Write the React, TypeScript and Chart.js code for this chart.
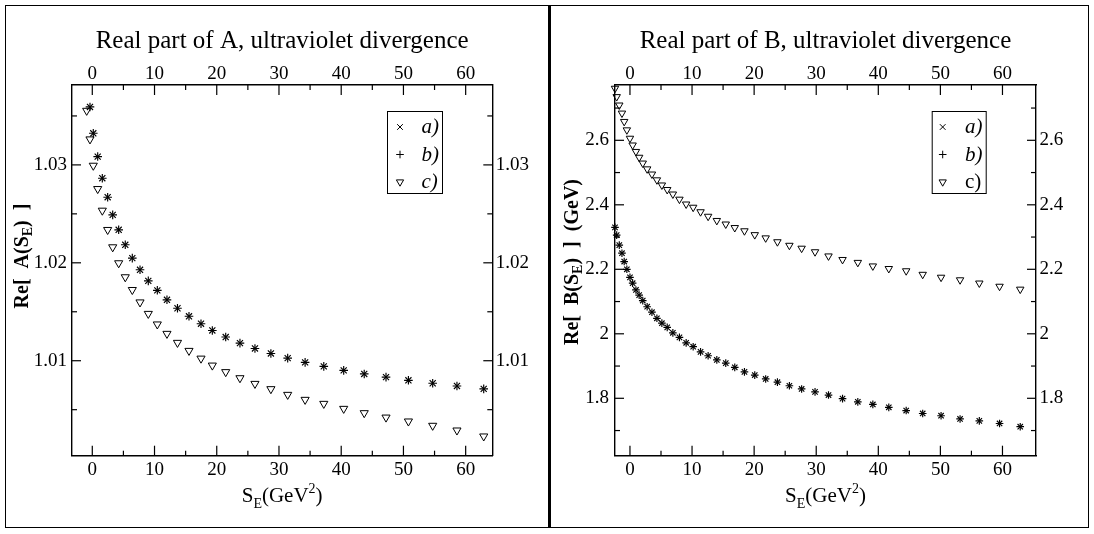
import React, { useEffect, useRef } from 'react';
import { Chart, registerables } from 'chart.js';

Chart.register(...registerables);

const SERIF = "'Liberation Serif', 'Times New Roman', Times, serif";

// ---------- Left panel: Re A(S_E) ----------
const sEA = [-0.9, -0.37, 0.16, 0.87, 1.61, 2.47, 3.28, 4.24, 5.3, 6.43, 7.67, 9.0, 10.45, 12.0, 13.69, 15.54, 17.47, 19.29, 21.44, 23.73, 26.14, 28.7, 31.4, 34.2, 37.2, 40.4, 43.7, 47.2, 50.8, 54.7, 58.6, 62.9];
const reA_a = [null, 1.03592, 1.03323, 1.03085, 1.02864, 1.0267, 1.0249, 1.02337, 1.02184, 1.02048, 1.01929, 1.01816, 1.01719, 1.01622, 1.01536, 1.01454, 1.01378, 1.01309, 1.01242, 1.0118, 1.01125, 1.01074, 1.01027, 1.00983, 1.00942, 1.00901, 1.00865, 1.00832, 1.008, 1.0077, 1.00742, 1.00712];
const reA_b = [null, 1.03592, 1.03323, 1.03085, 1.02864, 1.0267, 1.0249, 1.02337, 1.02184, 1.02048, 1.01929, 1.01816, 1.01719, 1.01622, 1.01536, 1.01454, 1.01378, 1.01309, 1.01242, 1.0118, 1.01125, 1.01074, 1.01027, 1.00983, 1.00942, 1.00901, 1.00865, 1.00832, 1.008, 1.0077, 1.00742, 1.00712];
const reA_c = [1.03554, 1.03262, 1.02993, 1.02755, 1.02534, 1.02337, 1.0216, 1.01997, 1.01854, 1.01724, 1.01597, 1.0148, 1.01372, 1.01276, 1.01184, 1.01102, 1.01023, 1.00952, 1.00885, 1.00823, 1.00765, 1.00711, 1.00653, 1.00602, 1.00561, 1.0051, 1.00466, 1.00421, 1.00381, 1.00337, 1.00289, 1.00228];

// ---------- Right panel: Re B(S_E) ----------
const sEB = [-2.41, -2.14, -1.72, -1.29, -0.93, -0.5, 0, 0.43, 0.96, 1.48, 2.06, 2.77, 3.54, 4.34, 5.14, 6.0, 6.91, 7.97, 9.05, 10.18, 11.37, 12.59, 13.99, 15.43, 16.88, 18.44, 20.1, 21.86, 23.75, 25.68, 27.65, 29.81, 31.98, 34.24, 36.7, 39.12, 41.69, 44.49, 47.15, 50.11, 53.17, 56.27, 59.53, 62.86];
const reB_a = [2.33, 2.306, 2.275, 2.25, 2.224, 2.2, 2.175, 2.157, 2.136, 2.12, 2.103, 2.084, 2.067, 2.048, 2.033, 2.02, 2.003, 1.989, 1.972, 1.96, 1.944, 1.932, 1.919, 1.909, 1.896, 1.882, 1.872, 1.86, 1.85, 1.839, 1.829, 1.82, 1.81, 1.799, 1.789, 1.781, 1.772, 1.762, 1.753, 1.746, 1.736, 1.73, 1.722, 1.712];
const reB_b = [2.33, 2.306, 2.275, 2.25, 2.224, 2.2, 2.175, 2.157, 2.136, 2.12, 2.103, 2.084, 2.067, 2.048, 2.033, 2.02, 2.003, 1.989, 1.972, 1.96, 1.944, 1.932, 1.919, 1.909, 1.896, 1.882, 1.872, 1.86, 1.85, 1.839, 1.829, 1.82, 1.81, 1.799, 1.789, 1.781, 1.772, 1.762, 1.753, 1.746, 1.736, 1.73, 1.722, 1.712];
const reB_c = [2.761, 2.735, 2.709, 2.684, 2.658, 2.632, 2.606, 2.585, 2.565, 2.547, 2.529, 2.511, 2.495, 2.477, 2.461, 2.447, 2.433, 2.417, 2.402, 2.392, 2.378, 2.364, 2.351, 2.34, 2.329, 2.319, 2.307, 2.297, 2.285, 2.274, 2.265, 2.254, 2.241, 2.23, 2.221, 2.21, 2.202, 2.195, 2.184, 2.175, 2.167, 2.157, 2.147, 2.138];

// ---------- Ticks ----------
const xMajor = [0, 10, 20, 30, 40, 50, 60];
const xMinor = [5, 15, 25, 35, 45, 55];
const aMajor = [1.01, 1.02, 1.03];
const aMinor = [1.005, 1.015, 1.025, 1.035];
const bMajor = [1.8, 2.0, 2.2, 2.4, 2.6];
const bMinor = [1.7, 1.9, 2.1, 2.3, 2.5, 2.7];

const seriesLabels = ['a)', 'b)', 'c)'];

function pts(xs: number[], ys: (number | null)[]) {
  const out: { x: number; y: number }[] = [];
  xs.forEach((x, i) => {
    const y = ys[i];
    if (y !== null && y !== undefined) out.push({ x, y });
  });
  return out;
}

function drawRich(ctx: CanvasRenderingContext2D, parts: any[], cx: number, baseline: number) {
  let total = 0;
  parts.forEach((p) => {
    ctx.font = p.font;
    p.w = ctx.measureText(p.t).width;
    total += p.w;
  });
  let x = cx - total / 2;
  ctx.textAlign = 'left';
  ctx.textBaseline = 'alphabetic';
  parts.forEach((p) => {
    ctx.font = p.font;
    ctx.fillText(p.t, x, baseline + (p.dy || 0));
    x += p.w;
  });
}

function drawMarker(ctx: CanvasRenderingContext2D, kind: string, x: number, y: number, r: number) {
  ctx.beginPath();
  if (kind === 'x') {
    const d = r * 0.7071;
    ctx.moveTo(x - d, y - d); ctx.lineTo(x + d, y + d);
    ctx.moveTo(x - d, y + d); ctx.lineTo(x + d, y - d);
  } else if (kind === '+') {
    ctx.moveTo(x - r, y); ctx.lineTo(x + r, y);
    ctx.moveTo(x, y - r); ctx.lineTo(x, y + r);
  } else {
    ctx.moveTo(x - r * 0.866, y - r * 0.5);
    ctx.lineTo(x + r * 0.866, y - r * 0.5);
    ctx.lineTo(x, y + r);
    ctx.closePath();
  }
  ctx.stroke();
}

function makeDecor(cfg: any) {
  return {
    id: 'decor',
    afterDraw(chart: any) {
      const { ctx, chartArea: a, scales } = chart;
      ctx.save();
      ctx.strokeStyle = '#000';
      ctx.fillStyle = '#000';
      ctx.lineWidth = 1.2;
      const seg = (x1: number, y1: number, x2: number, y2: number) => {
        ctx.beginPath(); ctx.moveTo(x1, y1); ctx.lineTo(x2, y2); ctx.stroke();
      };
      const xTicks: [number[], number][] = [[xMajor, 10], [xMinor, 5]];
      xTicks.forEach(([vals, len]) => vals.forEach((v) => {
        const px = scales.x.getPixelForValue(v);
        seg(px, a.bottom, px, a.bottom - len);
        seg(px, a.top, px, a.top + len);
      }));
      const yTicks: [number[], number][] = [[cfg.yMajor, 9], [cfg.yMinor, 5]];
      yTicks.forEach(([vals, len]) => vals.forEach((v) => {
        const py = scales.y.getPixelForValue(v);
        seg(a.left, py, a.left + len, py);
        seg(a.right, py, a.right - len, py);
      }));

      const cx = (a.left + a.right) / 2;
      // Title
      ctx.font = `25px ${SERIF}`;
      ctx.textAlign = 'center';
      ctx.textBaseline = 'alphabetic';
      ctx.fillText(cfg.title, cx, 48);

      // x-axis title S_E(GeV^2)
      const big = `21px ${SERIF}`;
      const small = `14px ${SERIF}`;
      drawRich(ctx, [
        { t: 'S', font: big },
        { t: 'E', font: small, dy: 6 },
        { t: '(GeV', font: big },
        { t: '2', font: small, dy: -9 },
        { t: ')', font: big },
      ], cx, 502);

      // y-axis title (rotated)
      ctx.save();
      ctx.translate(cfg.yTitleX, cfg.yTitleY);
      ctx.rotate(-Math.PI / 2);
      const bb = `bold 20px ${SERIF}`;
      const bs = `bold 14px ${SERIF}`;
      drawRich(ctx, [
        { t: cfg.yTitleA, font: bb },
        { t: 'E', font: bs, dy: 4 },
        { t: cfg.yTitleB, font: bb },
      ], 0, 0);
      ctx.restore();

      // Legend
      const L = cfg.legend;
      ctx.fillStyle = '#fff';
      ctx.fillRect(L.x, L.y, L.w, L.h);
      ctx.fillStyle = '#000';
      ctx.lineWidth = 1;
      ctx.strokeRect(L.x + 0.5, L.y + 0.5, L.w, L.h);
      const kinds = ['x', '+', 'v'];
      const radii = [4, 3.8, 4.2];
      seriesLabels.forEach((lab, i) => {
        const ry = L.rows[i];
        ctx.lineWidth = 1;
        drawMarker(ctx, kinds[i], L.markerX, ry, radii[i]);
        const italic = i < 2 || cfg.cItalic;
        ctx.font = `${italic ? 'italic ' : ''}21px ${SERIF}`;
        ctx.textAlign = 'left';
        ctx.textBaseline = 'alphabetic';
        ctx.fillText(lab, L.textX, ry + 6);
      });
      ctx.restore();
    },
  };
}

function axisCommon(extra: any) {
  return {
    type: 'linear',
    grid: { display: false, drawTicks: false },
    border: { display: true, color: '#000', width: 1.4 },
    ...extra,
  };
}

function Panel({ cfg }: { cfg: any }) {
  const ref = useRef<HTMLCanvasElement>(null);
  useEffect(() => {
    const tickFont = { family: SERIF, size: 19 };
    const fmt = (v: any) => String(Number(Number(v).toFixed(4)));
    const xTicksCfg = (pad: number) => ({
      font: tickFont, color: '#000', padding: pad, maxRotation: 0, autoSkip: false, callback: fmt,
    });
    const yTicksCfg = (pad: number) => ({
      font: tickFont, color: '#000', padding: pad, autoSkip: false, callback: fmt,
    });
    const setX = (s: any) => { s.ticks = xMajor.map((v) => ({ value: v })); };
    const setY = (s: any) => { s.ticks = cfg.yMajor.map((v: number) => ({ value: v })); };
    const common = {
      showLine: false,
      borderColor: '#000',
      backgroundColor: 'rgba(0,0,0,0)',
      pointBorderColor: '#000',
      pointBackgroundColor: 'rgba(0,0,0,0)',
      pointBorderWidth: 1.15,
      clip: false,
    };
    const chart = new Chart(ref.current as HTMLCanvasElement, {
      type: 'scatter',
      data: {
        datasets: [
          { ...common, label: seriesLabels[0], data: pts(cfg.xs, cfg.ya), pointStyle: 'crossRot', pointRadius: cfg.rStar },
          { ...common, label: seriesLabels[1], data: pts(cfg.xs, cfg.yb), pointStyle: 'cross', pointRadius: cfg.rStar },
          { ...common, label: seriesLabels[2], data: pts(cfg.xs, cfg.yc), pointStyle: 'triangle', pointRotation: 180, pointRadius: cfg.rTri, pointBorderWidth: 1 },
        ],
      },
      options: {
        animation: false,
        responsive: false,
        devicePixelRatio: 1,
        layout: { padding: 0 },
        events: [],
        plugins: { legend: { display: false }, tooltip: { enabled: false }, title: { display: false } },
        scales: {
          x: axisCommon({
            position: 'bottom', min: cfg.xMin, max: cfg.xMax,
            afterBuildTicks: setX, afterFit: (s: any) => { s.height = cfg.bottomH; },
            ticks: xTicksCfg(3),
          }),
          x2: axisCommon({
            position: 'top', min: cfg.xMin, max: cfg.xMax,
            afterBuildTicks: setX, afterFit: (s: any) => { s.height = cfg.topH; },
            ticks: xTicksCfg(0),
          }),
          y: axisCommon({
            position: 'left', min: cfg.yMin, max: cfg.yMax,
            afterBuildTicks: setY, afterFit: (s: any) => { s.width = cfg.leftW; },
            ticks: yTicksCfg(cfg.leftPad),
          }),
          y2: axisCommon({
            position: 'right', min: cfg.yMin, max: cfg.yMax,
            afterBuildTicks: setY, afterFit: (s: any) => { s.width = cfg.rightW; },
            ticks: yTicksCfg(3.5),
          }),
        },
      } as any,
      plugins: [makeDecor(cfg)],
    } as any);
    return () => chart.destroy();
  }, []);
  return (
    <canvas
      ref={ref}
      width={cfg.w}
      height={534}
      style={{ position: 'absolute', left: cfg.left, top: 0, width: cfg.w, height: 534 }}
    />
  );
}

const leftCfg = {
  left: 0, w: 549, leftW: 72, rightW: 549 - 492.3, topH: 85, bottomH: 534 - 455.7, leftPad: 5,
  xMin: -3.26, xMax: 64.28, yMin: 1.0003, yMax: 1.03816,
  xs: sEA, ya: reA_a, yb: reA_b, yc: reA_c, rStar: 4.3, rTri: 4.7,
  yMajor: aMajor, yMinor: aMinor,
  title: 'Real part of A, ultraviolet divergence',
  yTitleA: 'Re[  A(S', yTitleB: ')  ]', yTitleX: 28, yTitleY: 256,
  legend: { x: 387, y: 111, w: 55, h: 82, markerX: 400, textX: 421.5, rows: [127, 154.5, 182] },
  cItalic: true,
};

const rightCfg = {
  left: 552, w: 542, leftW: 63, rightW: 58, topH: 85, bottomH: 534 - 455.7, leftPad: 6,
  xMin: -2.41, xMax: 65.4, yMin: 1.622, yMax: 2.7715,
  xs: sEB, ya: reB_a, yb: reB_b, yc: reB_c, rStar: 3.8, rTri: 4.3,
  yMajor: bMajor, yMinor: bMinor,
  title: 'Real part of B, ultraviolet divergence',
  yTitleA: 'Re[  B(S', yTitleB: ')  ]  (GeV)', yTitleX: 26, yTitleY: 262,
  legend: { x: 379.7, y: 111, w: 54, h: 82, markerX: 390.7, textX: 413, rows: [127, 154.5, 182] },
  cItalic: false,
};

export default function App() {
  return (
    <div style={{ position: 'absolute', left: 0, top: 0, width: 1094, height: 534, background: '#fff', overflow: 'hidden' }}>
      <Panel cfg={leftCfg} />
      <Panel cfg={rightCfg} />
      <div style={{ position: 'absolute', left: 5, top: 5, width: 1084, height: 523, border: '1px solid #000', boxSizing: 'border-box', pointerEvents: 'none' }} />
      <div style={{ position: 'absolute', left: 548, top: 5, width: 3, height: 523, background: '#000', pointerEvents: 'none' }} />
    </div>
  );
}
